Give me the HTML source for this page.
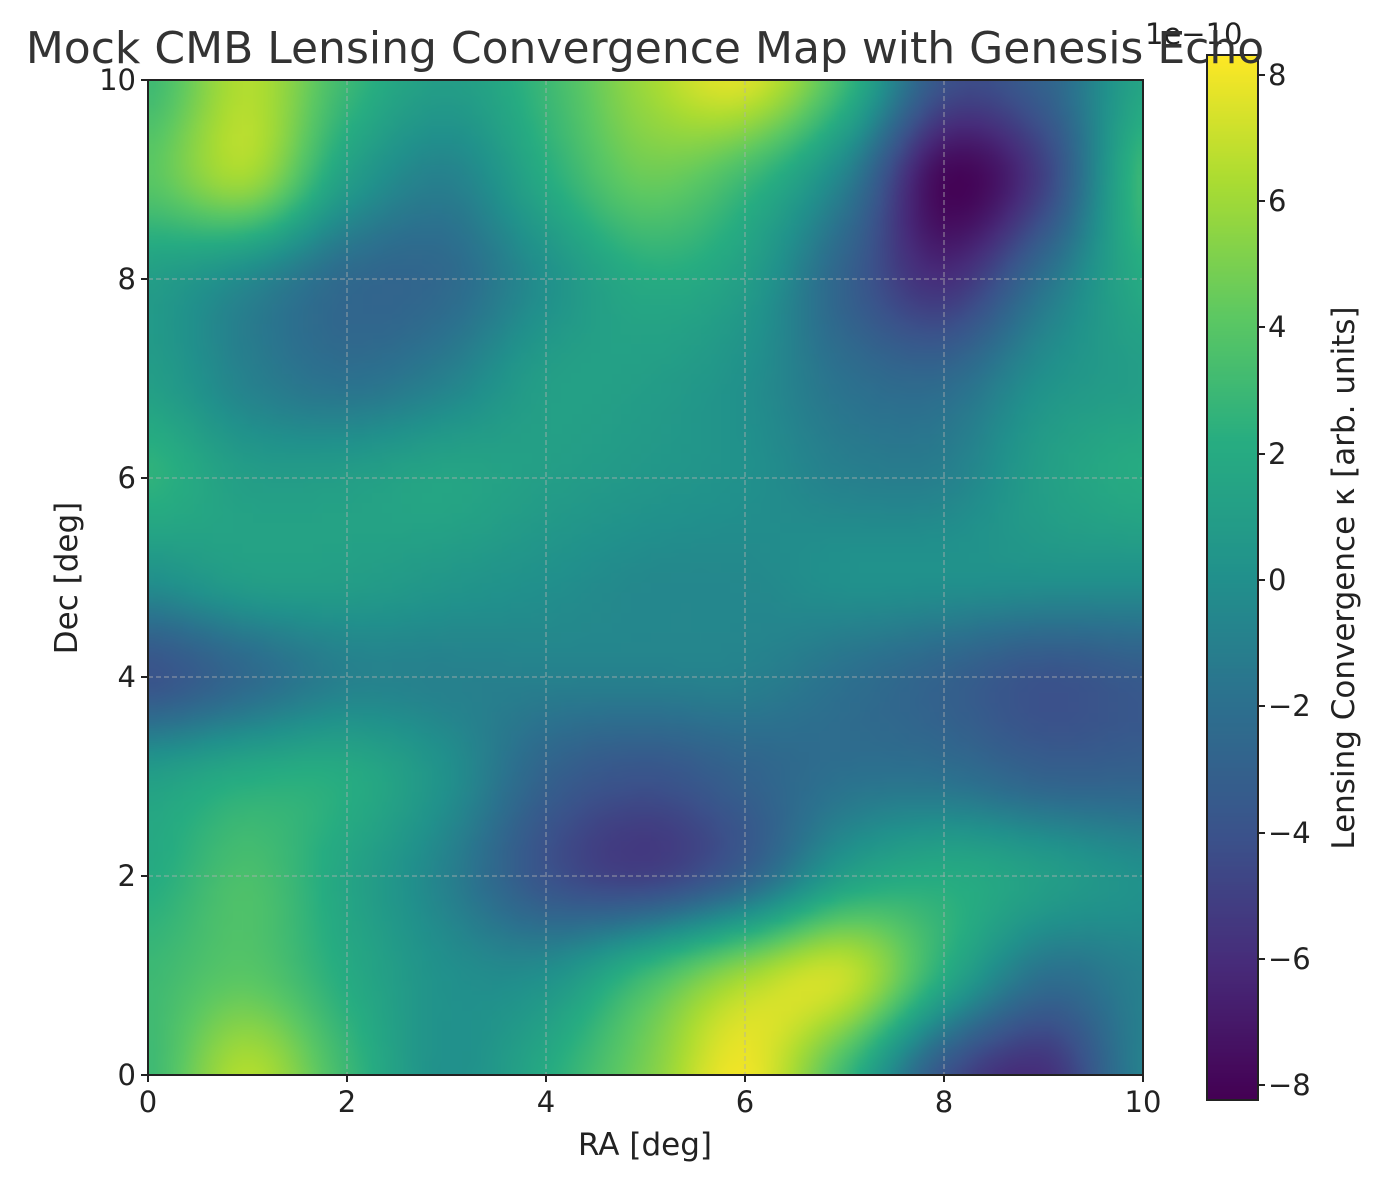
<!DOCTYPE html>
<html><head><meta charset="utf-8"><style>
body{margin:0;background:#fff;width:1381px;height:1182px;overflow:hidden;position:relative;font-family:"DejaVu Sans",sans-serif;color:#222}
canvas{position:absolute}
</style></head><body>
<canvas id="m" width="100" height="100" style="left:148px;top:80px;width:995px;height:995px"></canvas>
<canvas id="cb" width="1" height="256" style="left:1207px;top:55px;width:51px;height:1045px"></canvas>
<svg width="1381" height="1182" style="position:absolute;left:0;top:0" font-family="DejaVu Sans, sans-serif" fill="#222">
<g stroke="#b0b0b0" stroke-width="1" stroke-dasharray="5,3" opacity="0.8">
<line x1="347" y1="80" x2="347" y2="1075"/><line x1="546" y1="80" x2="546" y2="1075"/><line x1="745" y1="80" x2="745" y2="1075"/><line x1="944" y1="80" x2="944" y2="1075"/>
<line x1="148" y1="876" x2="1143" y2="876"/><line x1="148" y1="677" x2="1143" y2="677"/><line x1="148" y1="478" x2="1143" y2="478"/><line x1="148" y1="279" x2="1143" y2="279"/>
</g>
<rect x="148" y="80" width="995" height="995" fill="none" stroke="#222" stroke-width="2"/>
<rect x="1207" y="55" width="51" height="1045" fill="none" stroke="#222" stroke-width="2"/>
<g stroke="#222" stroke-width="2">
<line x1="148" y1="1075" x2="148" y2="1082"/><line x1="347" y1="1075" x2="347" y2="1082"/><line x1="546" y1="1075" x2="546" y2="1082"/><line x1="745" y1="1075" x2="745" y2="1082"/><line x1="944" y1="1075" x2="944" y2="1082"/><line x1="1143" y1="1075" x2="1143" y2="1082"/>
<line x1="141" y1="1075" x2="148" y2="1075"/><line x1="141" y1="876" x2="148" y2="876"/><line x1="141" y1="677" x2="148" y2="677"/><line x1="141" y1="478" x2="148" y2="478"/><line x1="141" y1="279" x2="148" y2="279"/><line x1="141" y1="80" x2="148" y2="80"/>
<line x1="1258" y1="75" x2="1265" y2="75"/><line x1="1258" y1="201" x2="1265" y2="201"/><line x1="1258" y1="327" x2="1265" y2="327"/><line x1="1258" y1="454" x2="1265" y2="454"/><line x1="1258" y1="580" x2="1265" y2="580"/><line x1="1258" y1="706" x2="1265" y2="706"/><line x1="1258" y1="833" x2="1265" y2="833"/><line x1="1258" y1="959" x2="1265" y2="959"/><line x1="1258" y1="1085" x2="1265" y2="1085"/>
</g>
<g font-size="29" text-anchor="middle">
<text x="148" y="1112">0</text><text x="347" y="1112">2</text><text x="546" y="1112">4</text><text x="745" y="1112">6</text><text x="944" y="1112">8</text><text x="1143" y="1112">10</text>
</g>
<g font-size="29" text-anchor="end">
<text x="136" y="1085">0</text><text x="136" y="886">2</text><text x="136" y="687">4</text><text x="136" y="488">6</text><text x="136" y="289">8</text><text x="136" y="90">10</text>
</g>
<g font-size="29">
<text x="1268" y="85">8</text><text x="1268" y="211">6</text><text x="1268" y="337">4</text><text x="1268" y="464">2</text><text x="1268" y="590">0</text><text x="1268" y="716">−2</text><text x="1268" y="843">−4</text><text x="1268" y="969">−6</text><text x="1268" y="1095">−8</text>
</g>
<text x="645" y="1155" font-size="31" text-anchor="middle">RA [deg]</text>
<text transform="translate(77,578) rotate(-90)" font-size="31" text-anchor="middle">Dec [deg]</text>
<text transform="translate(1354,578) rotate(-90)" font-size="31" text-anchor="middle">Lensing Convergence κ [arb. units]</text>
<text x="1145" y="44" font-size="29">1e−10</text>
<text x="645" y="63" font-size="44" text-anchor="middle" fill="#333">Mock CMB Lensing Convergence Map with Genesis Echo</text>
</svg>
<script>
var V=[
[3,6.5,3,0,2,5,8,3,-4,-6,-1],
[3,4,2,0,0,3,6,7,2,-2,-1],
[2,3.5,1.5,-1,-4,-5,-3,1,2,1,0],
[1,2,2,0,-3,-4,-3,-2,-2,-3,-3],
[-4,-2.5,-1,-1,-1,-1,-1,-2,-3,-4,-3.5],
[0,1,1,0.5,0,-0.5,-0.5,0,0,0,0],
[2.5,1,1,1.5,1,0.5,0,-1,-1,1,2],
[1,-1,-2,-1,1,1,0,-2,-2.5,0,1],
[1,-0.5,-2.5,-2.5,0,2,1,-3,-6,-2,2],
[4,6,1,-1,2,4.5,3,-1,-8,-5,3],
[3,6.5,3,1,3,6,7.5,3,-4,-3,1.5]];
var S=[[0,68,1,84],[.13,71,44,122],[.25,59,82,139],[.38,44,113,142],[.5,33,145,140],[.63,39,173,129],[.75,92,200,99],[.88,170,220,50],[1,253,231,37]];
function cm(t){t=Math.max(0,Math.min(1,t));for(var i=1;i<S.length;i++){if(t<=S[i][0]){var a=S[i-1],b=S[i],f=(t-a[0])/(b[0]-a[0]);return[a[1]+f*(b[1]-a[1]),a[2]+f*(b[2]-a[2]),a[3]+f*(b[3]-a[3])];}}return[253,231,37];}
function g(r,c){r=Math.max(0,Math.min(10,r));c=Math.max(0,Math.min(10,c));return V[r][c];}
function cr(p0,p1,p2,p3,t){return 0.5*(2*p1+(-p0+p2)*t+(2*p0-5*p1+4*p2-p3)*t*t+(-p0+3*p1-3*p2+p3)*t*t*t);}
function val(x,y){var i=Math.min(9,Math.floor(x)),j=Math.min(9,Math.floor(y)),tx=x-i,ty=y-j,rows=[];
for(var k=-1;k<3;k++){rows.push(cr(g(j+k,i-1),g(j+k,i),g(j+k,i+1),g(j+k,i+2),tx));}
return cr(rows[0],rows[1],rows[2],rows[3],ty);}
var c=document.getElementById('m').getContext('2d'),im=c.createImageData(100,100);
for(var py=0;py<100;py++)for(var px=0;px<100;px++){var x=(px+.5)/10,y=10-(py+.5)/10,v=val(x,y),col=cm((v+8.3)/16.6),o=(py*100+px)*4;
im.data[o]=col[0];im.data[o+1]=col[1];im.data[o+2]=col[2];im.data[o+3]=255;}
c.putImageData(im,0,0);
var b=document.getElementById('cb').getContext('2d'),im2=b.createImageData(1,256);
for(var k=0;k<256;k++){var col=cm(1-k/255),o=k*4;im2.data[o]=col[0];im2.data[o+1]=col[1];im2.data[o+2]=col[2];im2.data[o+3]=255;}
b.putImageData(im2,0,0);
</script>
</body></html>
